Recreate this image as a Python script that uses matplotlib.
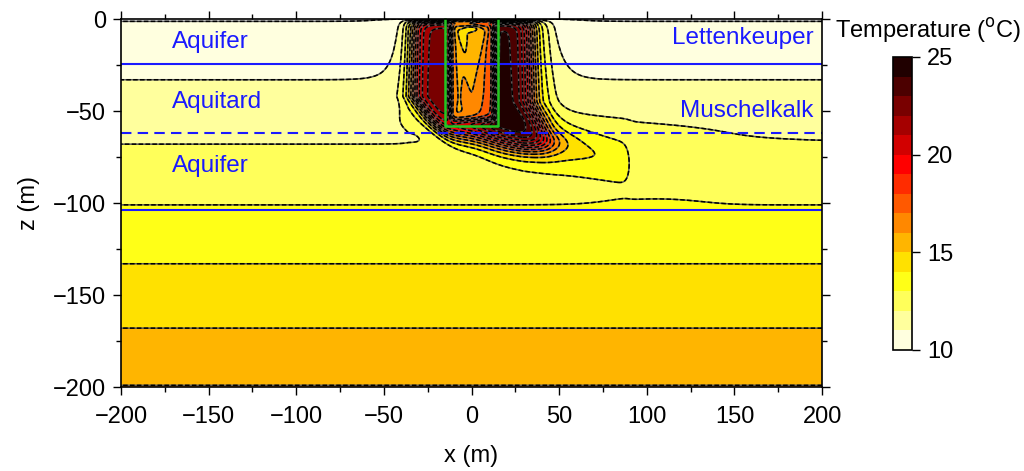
import numpy as np
import matplotlib
matplotlib.use("Agg")
import matplotlib.pyplot as plt
from matplotlib.ticker import MultipleLocator

plt.rcParams['font.family'] = ['Liberation Sans', 'DejaVu Sans']

# Undisturbed geothermal profile (depth in m, temperature in degC)
bg_depth = [0, -33, -68, -101, -133, -168, -200]
bg_temp = [9.96, 11.0, 12.0, 13.0, 14.0, 15.0, 16.03]

# Temperature classes and colour bar ticks
levels = np.arange(10, 26, 1)
cbar_ticks = [10, 15, 20, 25]

# Geological boundaries (m)
aquifer_base = -24.5
muschelkalk_top = -62
lower_aquifer_base = -104

# Borehole heat exchanger field
bhe_x = [-15, 15]
bhe_bottom = -58

# Layer annotations
layer_names = ["Aquifer", "Aquitard", "Aquifer"]
layer_z = [-12.5, -45, -80]
formation_names = ["Lettenkeuper", "Muschelkalk"]
formation_z = [-10.5, -50]

# Heat plume description
ring_peak_left = 11.6     # excess temperature upstream side
ring_peak_right = 13.6    # excess temperature downstream side
ring_depth_loss = 0.025   # excess lost per metre depth
ring_edges = [-33, 34]    # lateral extent of the warm zone (m)
ring_soft = [6.0, 7.5]
ring_depth = 63.0
core_drop = 6.9           # cooler core inside the BHE field
core_edges = [-12, 13]
core_depths = [2, 55]
vcore_drop = 1.0          # V-shaped cool core below the manifold
vcore_half_width = 9.0
vcore_depth = 40.0
halo_amp = 0.9            # weak halo around the field
halo_radius = 40.0
halo_decay = 7.0
spread_amp = 0.48         # warm water drifting right above the Muschelkalk
spread_decay = 136.0
tongue_amp = 3.0          # plume carried by flow in the lower aquifer
tongue_decay = 80.0
tongue_tip = 90.0
lobe_amp = 2.0            # warm lobe just below the field

x = np.linspace(-200, 200, 1201)
z = np.linspace(-200, 0, 801)
X, Z = np.meshgrid(x, z)
D = -Z


def box(v, a, b, w):
    return 0.5 * (np.tanh((v - a) / w) - np.tanh((v - b) / w))


def step(v, a, w):
    return 0.5 * (1 + np.tanh((v - a) / w))


T = np.interp(Z, bg_depth[::-1], bg_temp[::-1])

# lateral edges of the warm zone lean downstream with depth
left_edge = ring_edges[0] + 0.75 * np.clip(D - 42, 0, None)
right_edge = ring_edges[1] + 0.4 * np.clip(D - 45, 0, None)
ring_base = ring_depth + 0.05 * np.clip(X + 20, 0, None)
peak = ring_peak_left + (ring_peak_right - ring_peak_left) * step(X, 5, 10) \
    - ring_depth_loss * D
lateral = 0.5 * (np.tanh((X - left_edge) / ring_soft[0])
                 - np.tanh((X - right_edge) / ring_soft[1]))
ring = peak * lateral * (1 - step(D, ring_base, 7))

core = core_drop * box(X, core_edges[0], core_edges[1], 1.8) \
    * box(D, core_depths[0], core_depths[1], 2.5)
v_half = vcore_half_width * np.clip((vcore_depth - D) / (vcore_depth - 7), 0, None)
core += vcore_drop * (1 - step(np.abs(X), v_half, 1.2)) * box(D, 4, vcore_depth, 1.5)
core += 1.3 * np.exp(-(X / 4.5) ** 2 - ((D - 5) / 1.6) ** 2)

halo = halo_amp * np.exp(-np.clip(np.abs(X - 4) - halo_radius, 0, None) / halo_decay) \
    * (1 - step(D, 58, 5))

spread = spread_amp * np.exp(-np.clip(X - 50, 0, None) / spread_decay) \
    * step(X, 35, 6) * np.exp(-((D - 57) / 9) ** 2)

zc = 62 + 0.15 * X
tongue = tongue_amp * np.exp(-np.clip(X - 30, 0, None) / tongue_decay) * step(X, 10, 12) \
    * (1 - step(X, tongue_tip, 3)) * np.exp(-((D - zc) / 12) ** 2)
lobe = lobe_amp * np.exp(-((X - 35) / 18) ** 2 - ((D - 67) / 6) ** 2)

bump = 0.12 * np.exp(-((X - 105) / 30) ** 2) * np.exp(-((D - 100) / 5) ** 2)

taper = 1 - np.exp(-D / 1.5)
T = T + taper * (ring - core + halo + spread + tongue + lobe) + bump
T = np.minimum(T, 24.99)

fig = plt.figure(figsize=(10.24, 4.71), dpi=100)
ax = fig.add_axes([0.1182, 0.1783, 0.6846, 0.7813])

cf = ax.contourf(X, Z, T, levels=levels, cmap='hot_r')
ax.contour(X, Z, T, levels=levels[:-1], colors='0.35', linewidths=1.1)
ax.contour(X, Z, T, levels=levels[:-1], colors='k', linewidths=1.1,
           linestyles=[(0, (3, 1.5))])

blue = '#1a1aff'
ax.axhline(aquifer_base, color=blue, lw=1.5)
ax.axhline(muschelkalk_top, color=blue, lw=1.5, ls=(0, (5, 3)))
ax.axhline(lower_aquifer_base, color=blue, lw=1.5)

green = '#22c822'
ax.plot([bhe_x[0], bhe_x[0], bhe_x[1], bhe_x[1]], [0, bhe_bottom, bhe_bottom, 0],
        color=green, lw=1.8, clip_on=False)

for name, zz in zip(layer_names, layer_z):
    ax.text(-171, zz, name, color=blue, fontsize=17.5, va='center', ha='left')
for name, zz in zip(formation_names, formation_z):
    ax.text(195, zz, name, color=blue, fontsize=17.5, va='center', ha='right')

ax.set_xlim(-200, 200)
ax.set_ylim(-200, 0)
ax.xaxis.set_major_locator(MultipleLocator(50))
ax.xaxis.set_minor_locator(MultipleLocator(25))
ax.yaxis.set_major_locator(MultipleLocator(50))
ax.yaxis.set_minor_locator(MultipleLocator(25))
ax.tick_params(which='both', direction='out', top=True, right=True,
               labeltop=False, labelright=False, width=1.0, labelsize=17,
               colors='k')
ax.tick_params(which='major', length=6)
ax.tick_params(which='minor', length=3.5)
ax.tick_params(axis='x', which='major', pad=8)
ax.tick_params(axis='y', which='major', pad=5)
for sp in ax.spines.values():
    sp.set_linewidth(1.2)
ax.set_xlabel('x (m)', fontsize=17, labelpad=12)
ax.set_ylabel('z (m)', fontsize=17, labelpad=9)

cax = fig.add_axes([0.872, 0.257, 0.0186, 0.622])
cb = fig.colorbar(cf, cax=cax, ticks=cbar_ticks)
cb.outline.set_linewidth(1.2)
cax.tick_params(direction='out', length=6, width=1.0, labelsize=17, pad=5)
fig.text(0.815, 0.935, 'Temperature ($^{\\mathrm{o}}$C)', fontsize=17,
         ha='left', va='center')

fig.savefig('out.png', dpi=100)
